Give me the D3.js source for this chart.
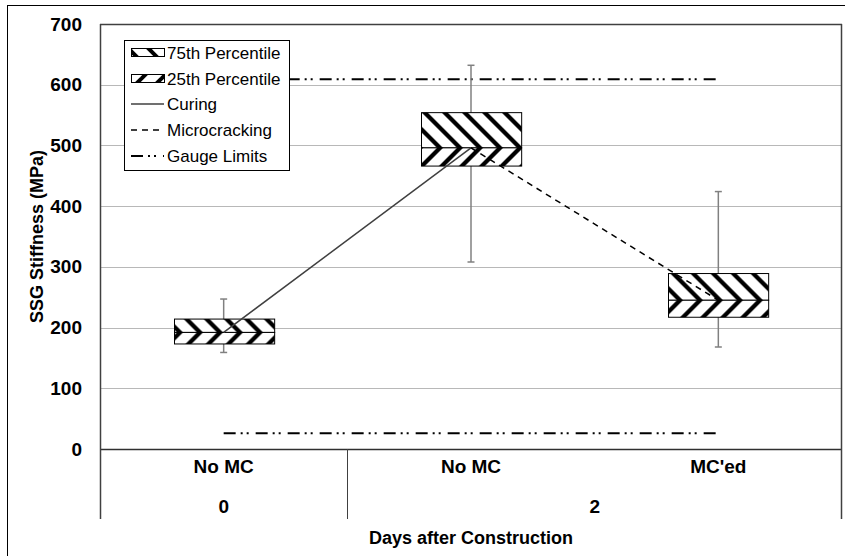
<!DOCTYPE html>
<html>
<head>
<meta charset="utf-8">
<script src="https://cdn.jsdelivr.net/npm/d3@7"></script>
<style>
  body { margin: 0; background: #fff; }
  svg { display: block; font-family: Arial, "Liberation Sans", sans-serif; }
</style>
</head>
<body>
<svg id="chart" width="845" height="556"></svg>
<script>
// ---- data ----
const categories = ["No MC", "No MC", "MC'ed"];
const groupLabels = ["0", "2"];
const groupStart = [0, 1];
const groupEnd = [1, 3];
const q1 = [173, 466, 217];
const median = [192, 496, 245];
const q3 = [214, 554, 289];
const whiskerLow = [159, 308, 168];
const whiskerHigh = [247, 632, 424];
const gaugeLimits = [26, 609];
const yTicks = [0, 100, 200, 300, 400, 500, 600, 700];
const curingIdx = [0, 1];
const microIdx = [1, 2];
const legendLabels = ["75th Percentile", "25th Percentile", "Curing", "Microcracking", "Gauge Limits"];

// ---- layout ----
const svg = d3.select("#chart");
const plot = { left: 100, right: 842, top: 24, bottom: 449 };
const axisBottom = 519;

const x = d3.scaleBand().domain(d3.range(categories.length)).range([plot.left, plot.right]).padding(0);
const y = d3.scaleLinear().domain([0, 700]).range([plot.bottom, plot.top]);
const boxW = x.bandwidth() * 0.405;
const cx = i => x(i) + x.bandwidth() / 2;

// outer frame
svg.append("rect").attr("x", 7.5).attr("y", 5.5).attr("width", 900).attr("height", 900)
  .attr("fill", "none").attr("stroke", "#000").attr("stroke-width", 1);

// defs: hatch patterns per box
const defs = svg.append("defs");
const P = 20;
function makePattern(id, dir, offY, sw) {
  const p = defs.append("pattern").attr("id", id).attr("patternUnits", "userSpaceOnUse")
    .attr("width", P).attr("height", P).attr("x", 0).attr("y", offY);
  p.append("rect").attr("width", P).attr("height", P).attr("fill", "#fff");
  [-P, 0, P].forEach(k => {
    if (dir === "down") {
      p.append("line").attr("x1", k - 5).attr("y1", -5).attr("x2", k + P + 5).attr("y2", P + 5)
        .attr("stroke", "#000").attr("stroke-width", sw);
    } else {
      p.append("line").attr("x1", k - 5).attr("y1", P + 5).attr("x2", k + P + 5).attr("y2", -5)
        .attr("stroke", "#000").attr("stroke-width", sw);
    }
  });
}
categories.forEach((c, i) => {
  makePattern("up" + i, "down", y(median[i]), 4.2);
  makePattern("lo" + i, "up", y(median[i]), 4.2);
});
makePattern("legUp", "down", 0, 4);
makePattern("legLo", "up", 0, 4);

// gridlines
svg.append("g").selectAll("line").data(yTicks.filter(t => t > 0 && t < 700)).join("line")
  .attr("x1", plot.left).attr("x2", plot.right)
  .attr("y1", d => Math.round(y(d)) + 0.5).attr("y2", d => Math.round(y(d)) + 0.5)
  .attr("stroke", "#b8b8b8").attr("stroke-width", 1);

// plot border (top, right) and axes
svg.append("line").attr("x1", plot.left).attr("x2", plot.right).attr("y1", plot.top + 0.5).attr("y2", plot.top + 0.5)
  .attr("stroke", "#404040").attr("stroke-width", 1.5);
svg.append("line").attr("x1", plot.left).attr("x2", plot.right).attr("y1", plot.bottom + 0.5).attr("y2", plot.bottom + 0.5)
  .attr("stroke", "#303030").attr("stroke-width", 1.5);
svg.append("line").attr("x1", plot.left + 0.5).attr("x2", plot.left + 0.5).attr("y1", plot.top).attr("y2", axisBottom)
  .attr("stroke", "#404040").attr("stroke-width", 1.5);
svg.append("line").attr("x1", plot.right - 0.5).attr("x2", plot.right - 0.5).attr("y1", plot.top).attr("y2", axisBottom)
  .attr("stroke", "#404040").attr("stroke-width", 1.5);
// group separators
groupStart.slice(1).forEach(s => {
  svg.append("line").attr("x1", Math.round(x(s)) + 0.5).attr("x2", Math.round(x(s)) + 0.5)
    .attr("y1", plot.bottom).attr("y2", axisBottom).attr("stroke", "#404040").attr("stroke-width", 1);
});

// y axis tick labels
const yAxis = d3.axisLeft(y).tickValues(yTicks).tickSize(0).tickPadding(18);
const gy = svg.append("g").attr("transform", `translate(${plot.left},0)`).call(yAxis);
gy.select(".domain").remove();
gy.selectAll("text").attr("font-size", 19).attr("font-weight", "bold").attr("fill", "#000")
  .attr("font-family", "Arial, 'Liberation Sans', sans-serif");

// category labels
svg.append("g").selectAll("text").data(categories).join("text")
  .attr("x", (d, i) => cx(i)).attr("y", 473).attr("text-anchor", "middle")
  .attr("font-size", 19).attr("font-weight", "bold").text(d => d);
svg.append("g").selectAll("text").data(groupLabels).join("text")
  .attr("x", (d, i) => (x(groupStart[i]) + x(groupEnd[i] - 1) + x.bandwidth()) / 2)
  .attr("y", 513).attr("text-anchor", "middle")
  .attr("font-size", 19).attr("font-weight", "bold").text(d => d);

// axis titles
svg.append("text").attr("x", (plot.left + plot.right) / 2).attr("y", 544).attr("text-anchor", "middle")
  .attr("font-size", 18).attr("font-weight", "bold").text("Days after Construction");
svg.append("text").attr("transform", `translate(43,${(plot.top + plot.bottom) / 2}) rotate(-90)`)
  .attr("text-anchor", "middle").attr("font-size", 18).attr("font-weight", "bold").text("SSG Stiffness (MPa)");

// gauge limits
const gaugeDash = "12,5,2,4,2,7";
svg.append("g").selectAll("line").data(gaugeLimits).join("line")
  .attr("x1", cx(0)).attr("x2", cx(categories.length - 1))
  .attr("y1", d => y(d)).attr("y2", d => y(d))
  .attr("stroke", "#000").attr("stroke-width", 2).attr("stroke-dasharray", gaugeDash);

// whiskers
const wg = svg.append("g");
categories.forEach((c, i) => {
  wg.append("line").attr("x1", cx(i)).attr("x2", cx(i)).attr("y1", y(whiskerLow[i])).attr("y2", y(whiskerHigh[i]))
    .attr("stroke", "#808080").attr("stroke-width", 1.5);
  [whiskerLow[i], whiskerHigh[i]].forEach(v => {
    wg.append("line").attr("x1", cx(i) - 3.5).attr("x2", cx(i) + 3.5).attr("y1", y(v)).attr("y2", y(v))
      .attr("stroke", "#808080").attr("stroke-width", 1.5);
  });
});

// boxes
const bg = svg.append("g");
categories.forEach((c, i) => {
  const x0 = Math.round(cx(i) - boxW / 2) + 0.5;
  bg.append("rect").attr("x", x0).attr("y", y(q3[i])).attr("width", boxW).attr("height", y(median[i]) - y(q3[i]))
    .attr("fill", `url(#up${i})`).attr("stroke", "#000").attr("stroke-width", 1);
  bg.append("rect").attr("x", x0).attr("y", y(median[i])).attr("width", boxW).attr("height", y(q1[i]) - y(median[i]))
    .attr("fill", `url(#lo${i})`).attr("stroke", "#000").attr("stroke-width", 1);
});

// curing & microcracking lines
svg.append("line").attr("x1", cx(curingIdx[0])).attr("y1", y(median[curingIdx[0]]))
  .attr("x2", cx(curingIdx[1])).attr("y2", y(median[curingIdx[1]]))
  .attr("stroke", "#404040").attr("stroke-width", 1.5);
svg.append("line").attr("x1", cx(microIdx[0])).attr("y1", y(median[microIdx[0]]))
  .attr("x2", cx(microIdx[1])).attr("y2", y(median[microIdx[1]]))
  .attr("stroke", "#000").attr("stroke-width", 1.5).attr("stroke-dasharray", "6,5");

// legend
const lg = svg.append("g");
lg.append("rect").attr("x", 124.5).attr("y", 40.5).attr("width", 165).attr("height", 130)
  .attr("fill", "#fff").attr("stroke", "#000").attr("stroke-width", 1);
const rowY = [53, 79, 104, 130, 156];
const sx0 = 131, sx1 = 164;
lg.append("rect").attr("x", sx0 + 0.5).attr("y", rowY[0] - 4.5).attr("width", sx1 - sx0).attr("height", 8)
  .attr("fill", "url(#legUp)").attr("stroke", "#000").attr("stroke-width", 1);
lg.append("rect").attr("x", sx0 + 0.5).attr("y", rowY[1] - 4.5).attr("width", sx1 - sx0).attr("height", 8)
  .attr("fill", "url(#legLo)").attr("stroke", "#000").attr("stroke-width", 1);
lg.append("line").attr("x1", sx0).attr("x2", sx1).attr("y1", rowY[2]).attr("y2", rowY[2])
  .attr("stroke", "#404040").attr("stroke-width", 1.5);
lg.append("line").attr("x1", sx0).attr("x2", sx1).attr("y1", rowY[3]).attr("y2", rowY[3])
  .attr("stroke", "#000").attr("stroke-width", 1.5).attr("stroke-dasharray", "6,5");
lg.append("line").attr("x1", sx0).attr("x2", sx1).attr("y1", rowY[4]).attr("y2", rowY[4])
  .attr("stroke", "#000").attr("stroke-width", 2).attr("stroke-dasharray", gaugeDash);
lg.selectAll("text.lab").data(legendLabels).join("text").attr("class", "lab")
  .attr("x", 167).attr("y", (d, i) => rowY[i]).attr("dy", "0.35em")
  .attr("font-size", 17).text(d => d);
</script>
</body>
</html>
